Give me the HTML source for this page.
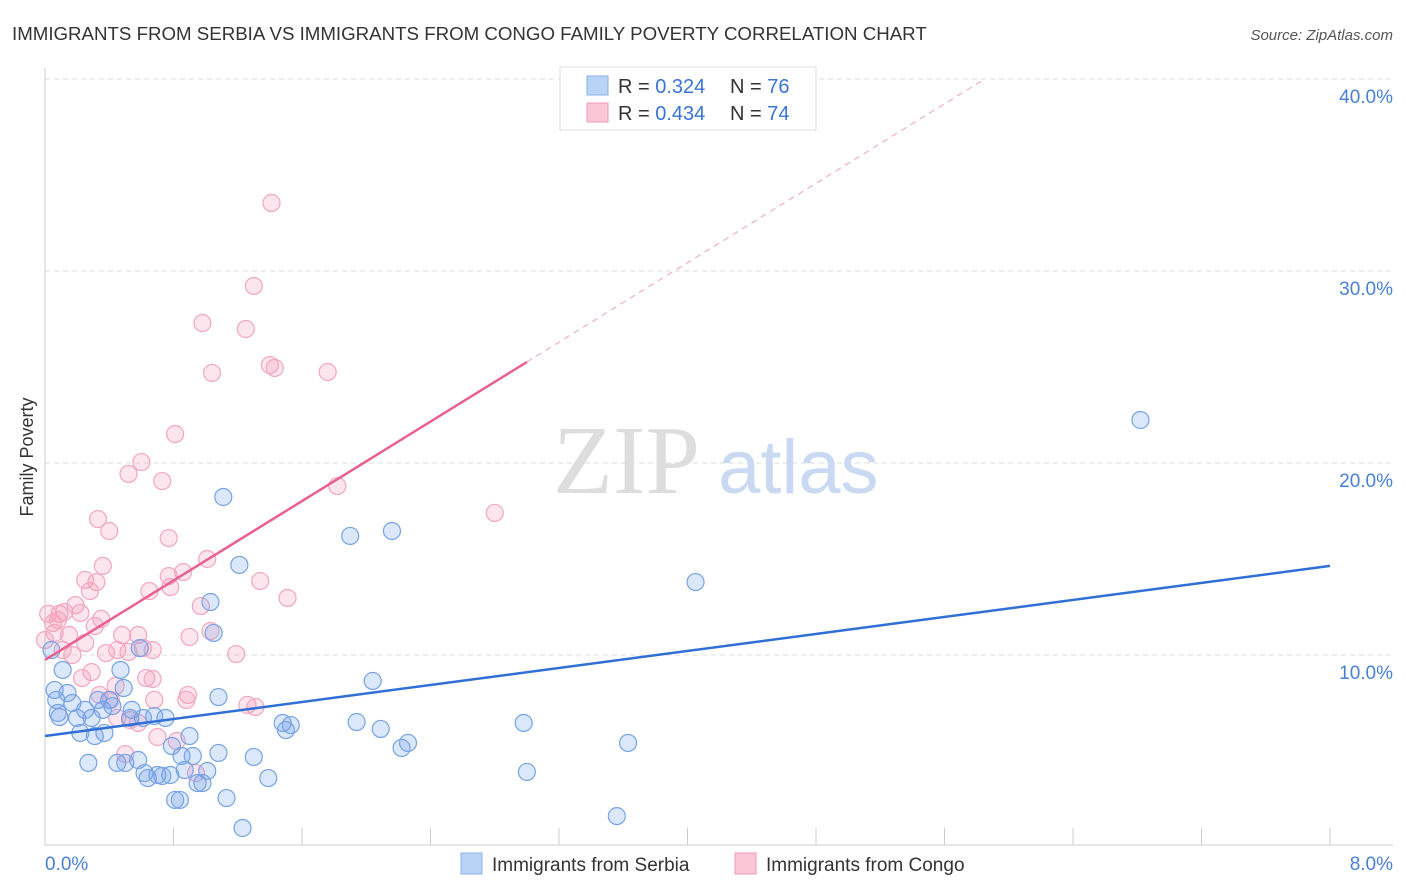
<!DOCTYPE html>
<html><head><meta charset="utf-8"><style>
body{margin:0;background:#fff;font-family:"Liberation Sans",sans-serif;}
#wrap{position:relative;width:1406px;height:892px;overflow:hidden;}
</style></head><body>
<div id="wrap">
<svg id="svg" width="1406" height="892" xmlns="http://www.w3.org/2000/svg" font-family="Liberation Sans, sans-serif">
<text x="12" y="40" font-size="18.7" fill="#333">IMMIGRANTS FROM SERBIA VS IMMIGRANTS FROM CONGO FAMILY POVERTY CORRELATION CHART</text>
<text x="1393" y="40" font-size="15" fill="#555" font-style="italic" text-anchor="end">Source: ZipAtlas.com</text>
<text x="33" y="457" font-size="18" fill="#333" text-anchor="middle" transform="rotate(-90 33 457)">Family Poverty</text>
<g id="grid"></g>
<g id="axes"></g>
<text x="553" y="493" font-size="98" fill="#ddd" font-family="Liberation Serif, serif">ZIP</text>
<text x="718" y="493" font-size="76" fill="#c9d9f2">atlas</text>
<g id="pts"></g>
<g id="lines"></g>
<g>
<rect x="560" y="67" width="256" height="63" fill="#fff" stroke="#ddd"/>
<rect x="587" y="76" width="21" height="19" fill="#b9d3f7" stroke="#8ab0e8"/>
<rect x="587" y="103" width="21" height="19" fill="#fbc6d6" stroke="#f09ab5"/>
<text x="618" y="93" font-size="20" fill="#333">R = <tspan fill="#3a74d4">0.324</tspan><tspan x="730">N = </tspan><tspan fill="#3a74d4">76</tspan></text>
<text x="618" y="120" font-size="20" fill="#333">R = <tspan fill="#3a74d4">0.434</tspan><tspan x="730">N = </tspan><tspan fill="#3a74d4">74</tspan></text>
</g>
<g>
<rect x="461" y="853" width="21" height="21" fill="#b9d3f7" stroke="#8ab0e8"/>
<text x="492" y="871" font-size="19" fill="#333">Immigrants from Serbia</text>
<rect x="735" y="853" width="21" height="21" fill="#fbc6d6" stroke="#f09ab5"/>
<text x="766" y="871" font-size="19" fill="#333">Immigrants from Congo</text>
</g>
</svg>
</div>
<script>
const serbiaX=[0.04,0.06,0.07,0.09,0.11,0.14,0.17,0.2,0.22,0.25,0.27,0.29,0.31,0.33,0.36,0.37,0.4,0.42,0.45,0.47,0.49,0.5,0.53,0.54,0.58,0.59,0.61,0.62,0.64,0.68,0.7,0.73,0.75,0.78,0.79,0.81,0.84,0.85,0.87,0.9,0.92,0.95,0.98,1.01,1.03,1.05,1.08,1.08,1.11,1.13,1.21,1.23,1.3,1.39,1.48,1.5,1.53,1.9,1.94,2.04,2.09,2.16,2.22,2.26,2.98,3.0,3.56,3.63,4.05,6.82,0.08];
const serbiaY=[10.26,8.18,7.66,6.77,9.22,8.02,7.5,6.72,5.94,7.14,4.38,6.72,5.78,7.66,7.14,5.94,7.66,7.34,4.38,9.22,8.28,4.38,6.72,7.14,4.53,10.36,6.72,3.85,3.59,6.82,3.75,3.7,6.72,3.75,5.26,2.45,2.45,4.74,4.01,5.78,4.74,3.33,3.33,3.96,12.76,11.15,4.9,7.81,18.23,2.55,14.69,0.99,4.69,3.59,6.46,6.09,6.35,16.2,6.51,8.65,6.15,16.46,5.16,5.42,6.46,3.91,1.61,5.42,13.8,22.24,6.98];
const congoX=[1.41,1.3,0.98,1.25,1.04,1.4,1.43,1.76,0.81,0.6,0.52,0.73,1.82,2.8,0.33,0.4,0.77,0.36,1.01,0.86,0.77,0.25,0.32,0.28,0.65,0.78,1.34,1.51,0.97,0.19,0.09,0.12,0.02,0.22,0.35,0.31,0.05,0.06,0.15,0.48,0.58,0.9,1.03,0.0,0.25,0.61,0.67,0.38,0.45,0.52,1.19,0.17,0.29,0.23,0.63,0.67,0.44,0.89,0.88,0.41,0.68,1.26,1.31,0.45,0.53,0.7,0.82,0.5,0.94,0.08,0.11,0.34,0.58];
const congoY=[33.54,29.22,27.29,26.98,24.69,25.1,24.95,24.74,21.51,20.05,19.43,19.06,18.8,17.4,17.08,16.46,16.09,14.64,15.0,14.32,14.11,13.91,13.8,13.33,13.33,13.54,13.85,12.97,12.55,12.6,12.14,12.24,12.14,12.19,11.88,11.51,11.67,11.15,11.04,11.04,11.04,10.94,11.25,10.78,10.63,10.36,10.26,10.1,10.26,10.16,10.05,10.0,9.11,8.8,8.8,8.75,8.39,7.92,7.66,7.66,7.66,7.4,7.29,6.72,6.61,5.73,5.52,4.84,3.85,11.82,10.26,7.92,6.46];
const yTicks=[10,20,30,40];
const yTickLabels=["10.0%","20.0%","30.0%","40.0%"];
const xTicks=[0,0.8,1.6,2.4,3.2,4.0,4.8,5.6,6.4,7.2,8.0];
const serbiaTrend=[[0,5.78],[8,14.64]];
const congoTrend=[[0,9.74],[3.0,25.26]];
const congoTrendExt=[[3.0,25.26],[5.85,40]];

const NS="http://www.w3.org/2000/svg";
const sx=v=>45+v*160.625;
const sy=v=>847-v*19.2;
function mk(tag,attrs,parent){const e=document.createElementNS(NS,tag);for(const k in attrs)e.setAttribute(k,attrs[k]);document.getElementById(parent).appendChild(e);return e;}

yTicks.forEach((t,i)=>{
 const l=mk('line',{x1:45,x2:1393,y1:sy(t),y2:sy(t),stroke:'#ddd','stroke-dasharray':'5,4'},'grid');
 
 
 const tx=mk('text',{x:1393,y:sy(t)+24,'font-size':19,fill:'#4a7fd6','text-anchor':'end'},'grid');
 tx.textContent=yTickLabels[i];
 
 
});
const ax=mk('line',{x1:45,x2:45,y1:68,y2:845,stroke:'#ccc'},'axes');


const bx=mk('line',{x1:45,x2:1393,y1:845,y2:845,stroke:'#ccc'},'axes');


xTicks.forEach(t=>{
 const l=mk('line',{x1:sx(t),x2:sx(t),y1:828,y2:845,stroke:'#ccc'},'axes');
 
 
});
const xl0=mk('text',{x:45,y:870,'font-size':19,fill:'#4a7fd6'},'axes');xl0.textContent='0.0%';


const xl1=mk('text',{x:1393,y:870,'font-size':19,fill:'#4a7fd6','text-anchor':'end'},'axes');xl1.textContent='8.0%';



congoX.forEach((x,i)=>{
 const c=mk('circle',{cx:sx(x),cy:sy(congoY[i]),r:8.5,fill:'rgba(244,150,180,0.25)',stroke:'#f3a6bf','stroke-width':1.2},'pts');
 
 
});
serbiaX.forEach((x,i)=>{
 const c=mk('circle',{cx:sx(x),cy:sy(serbiaY[i]),r:8.5,fill:'rgba(110,160,235,0.25)',stroke:'#77a3e4','stroke-width':1.2},'pts');
 
 
});
const l1=mk('line',{x1:sx(serbiaTrend[0][0]),y1:sy(serbiaTrend[0][1]),x2:sx(serbiaTrend[1][0]),y2:sy(serbiaTrend[1][1]),stroke:'#2f6fd6','stroke-width':2.5},'lines');


const l2=mk('line',{x1:sx(congoTrend[0][0]),y1:sy(congoTrend[0][1]),x2:sx(congoTrend[1][0]),y2:sy(congoTrend[1][1]),stroke:'#e8608e','stroke-width':2.5},'lines');


const l3=mk('line',{x1:sx(congoTrendExt[0][0]),y1:sy(congoTrendExt[0][1]),x2:sx(congoTrendExt[1][0]),y2:sy(congoTrendExt[1][1]),stroke:'#f0a0bb','stroke-width':1,'stroke-dasharray':'6,5'},'lines');


</script>
</body></html>
